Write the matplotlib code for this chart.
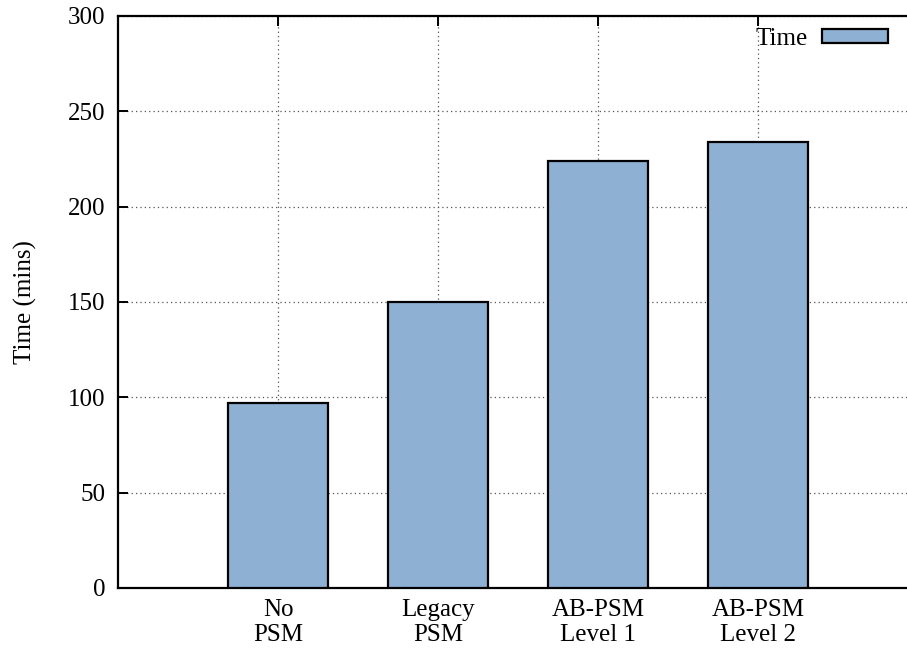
import matplotlib
matplotlib.use("Agg")
import matplotlib.pyplot as plt

categories = ["No\nPSM", "Legacy\nPSM", "AB-PSM\nLevel 1", "AB-PSM\nLevel 2"]
times = [97, 150, 224, 234]
y_ticks = [0, 50, 100, 150, 200, 250, 300]

plt.rcParams["font.family"] = ["Liberation Serif", "DejaVu Serif"]
plt.rcParams["font.size"] = 18

W, H = 907, 648
fig = plt.figure(figsize=(W / 100, H / 100), dpi=100)
left, right, top, bottom = 118, 918, 16, 588
ax = fig.add_axes([left / W, 1 - bottom / H, (right - left) / W, (bottom - top) / H])

x = list(range(len(categories)))
ax.bar(x, times, width=0.625, color="#8DB0D3", edgecolor="black",
       linewidth=1.6, label="Time", zorder=3)

ax.set_xlim(-1, 4)
ax.set_ylim(0, 300)
ax.set_yticks(y_ticks)
ax.set_xticks(x)
ax.set_xticklabels(categories, linespacing=1.15)
ax.set_ylabel("Time (mins)", labelpad=22)

ax.grid(True, color="#555555", linestyle=(0, (1, 2.5)), linewidth=0.9, zorder=0)
ax.set_axisbelow(True)

for s in ax.spines.values():
    s.set_linewidth(1.6)
ax.tick_params(axis="both", direction="in", length=7, width=1.4,
               top=True, right=True, pad=9)
ax.tick_params(axis="x", pad=8)

ax.legend(loc="upper right",
          bbox_to_anchor=((887 - left) / (right - left) + 0.021, 1.0 + 4 / (bottom - top)),
          frameon=False, markerfirst=False, handlelength=2.64, handleheight=0.48,
          handletextpad=0.56, borderaxespad=0.25)

fig.savefig("out.png", dpi=100)
